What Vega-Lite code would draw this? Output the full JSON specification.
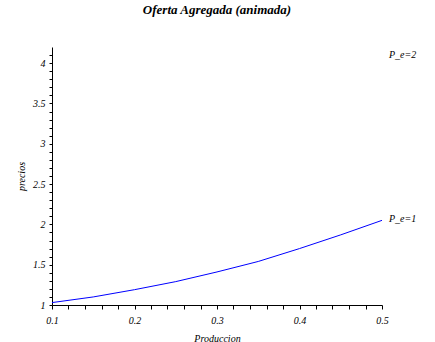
{
  "$schema": "https://vega.github.io/schema/vega-lite/v6.json",
  "autosize": "none",
  "width": 330,
  "height": 258,
  "padding": {"left": 52, "top": 47, "right": 53, "bottom": 37},
  "background": "white",
  "title": {
    "text": "Oferta Agregada (animada)",
    "font": "Liberation Serif",
    "fontStyle": "italic",
    "fontWeight": "bold",
    "fontSize": 13,
    "color": "black",
    "anchor": "middle",
    "offset": 30
  },
  "config": {
    "view": {"stroke": null},
    "axis": {
      "grid": false,
      "domainColor": "black",
      "tickColor": "black",
      "labelColor": "black",
      "titleColor": "black",
      "labelFont": "Liberation Serif",
      "labelFontStyle": "italic",
      "labelFontSize": 10,
      "titleFont": "Liberation Serif",
      "titleFontStyle": "italic",
      "titleFontWeight": "normal",
      "titleFontSize": 10
    }
  },
  "datasets": {
    "curve": [
      {"Produccion": 0.1, "precios": 1.03},
      {"Produccion": 0.15, "precios": 1.1},
      {"Produccion": 0.2, "precios": 1.19},
      {"Produccion": 0.25, "precios": 1.29},
      {"Produccion": 0.3, "precios": 1.41},
      {"Produccion": 0.35, "precios": 1.54},
      {"Produccion": 0.4, "precios": 1.7},
      {"Produccion": 0.45, "precios": 1.87},
      {"Produccion": 0.5, "precios": 2.05}
    ],
    "labels": [
      {"Produccion": 0.5, "precios": 4.1, "label": "P_e=2"},
      {"Produccion": 0.5, "precios": 2.07, "label": "P_e=1"}
    ]
  },
  "resolve": {"axis": {"x": "independent", "y": "independent"}},
  "layer": [
    {
      "data": {"name": "curve"},
      "mark": {"type": "line", "color": "#0000ff", "strokeWidth": 1},
      "encoding": {
        "x": {
          "field": "Produccion", "type": "quantitative",
          "scale": {"domain": [0.1, 0.5], "nice": false, "zero": false},
          "axis": {
            "orient": "bottom", "title": "Produccion",
            "values": [0.1, 0.2, 0.3, 0.4, 0.5],
            "format": ".1f", "tickSize": 4, "labelPadding": 6, "titlePadding": 8,
            "labelFlush": false
          }
        },
        "y": {
          "field": "precios", "type": "quantitative",
          "scale": {"domain": [1, 4.2], "nice": false, "zero": false},
          "axis": {
            "orient": "left", "title": "precios",
            "values": [1, 1.5, 2, 2.5, 3, 3.5, 4],
            "format": "~g",
            "tickSize": 3, "labelPadding": 4, "titlePadding": 6,
            "labelFlush": false
          }
        }
      }
    },
    {
      "data": {"name": "labels"},
      "mark": {
        "type": "text", "align": "left", "baseline": "middle", "dx": 7,
        "font": "Liberation Serif", "fontStyle": "italic", "fontSize": 10,
        "color": "black", "clip": false
      },
      "encoding": {
        "x": {
          "field": "Produccion", "type": "quantitative",
          "axis": {
            "orient": "bottom", "title": null, "labels": false, "domain": false,
            "values": [0.12, 0.14, 0.16, 0.18, 0.22, 0.24, 0.26, 0.28, 0.32, 0.34, 0.36, 0.38, 0.42, 0.44, 0.46, 0.48],
            "tickSize": 4
          }
        },
        "y": {
          "field": "precios", "type": "quantitative",
          "axis": {
            "orient": "left", "title": null, "labels": false, "domain": false,
            "values": [1.1, 1.2, 1.3, 1.4, 1.6, 1.7, 1.8, 1.9, 2.1, 2.2, 2.3, 2.4, 2.6, 2.7, 2.8, 2.9, 3.1, 3.2, 3.3, 3.4, 3.6, 3.7, 3.8, 3.9, 4.1],
            "tickSize": 3
          }
        },
        "text": {"field": "label"}
      }
    }
  ]
}
